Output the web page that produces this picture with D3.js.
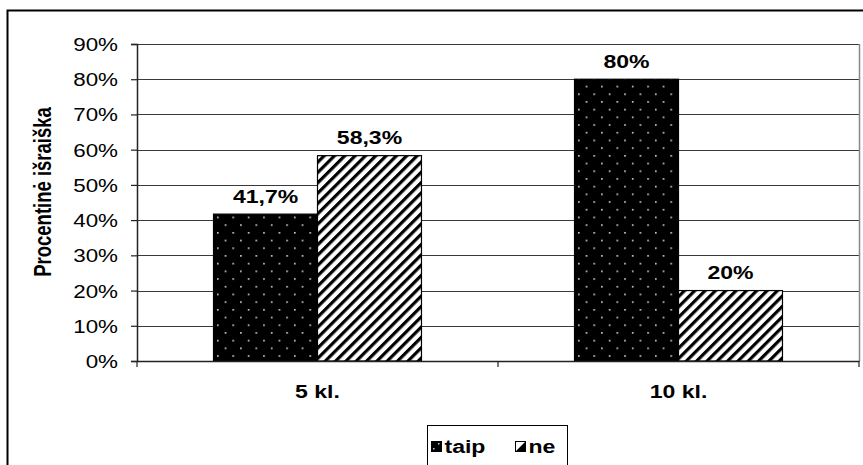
<!DOCTYPE html>
<html><head><meta charset="utf-8">
<script src="https://cdn.jsdelivr.net/npm/d3@7"></script>
<style>body{margin:0;background:#fff}svg{display:block}</style>
</head><body>
<script>
const categories = ["5 kl.", "10 kl."];
const seriesNames = ["taip", "ne"];
const taipValues = [0.417, 0.80];
const neValues = [0.583, 0.20];
const valueLabels = [["41,7%", "58,3%"], ["80%", "20%"]];
const yTicks = [0, 0.1, 0.2, 0.3, 0.4, 0.5, 0.6, 0.7, 0.8, 0.9];
const yTitle = "Procentinė išraiška";

(function () {
const W = 863, H = 465, SX = 1.28;
const svg = d3.select("body").append("svg").attr("width", W).attr("height", H);
const defs = svg.append("defs");

// dotted pattern
const pd = defs.append("pattern").attr("id", "dots").attr("patternUnits", "userSpaceOnUse")
  .attr("width", 15.4).attr("height", 15.4).attr("x", 2).attr("y", 0);
pd.append("rect").attr("width", 15.4).attr("height", 15.4).attr("fill", "#000");
pd.append("rect").attr("x", 1).attr("y", 1).attr("width", 1.6).attr("height", 1.6).attr("fill", "#d8d8d8");
pd.append("rect").attr("x", 8.7).attr("y", 8.7).attr("width", 1.6).attr("height", 1.6).attr("fill", "#d8d8d8");

// hatch pattern
const ph = defs.append("pattern").attr("id", "hatch").attr("patternUnits", "userSpaceOnUse")
  .attr("width", 7.3).attr("height", 7.3).attr("patternTransform", "rotate(45)");
ph.append("rect").attr("width", 7.3).attr("height", 7.3).attr("fill", "#fff");
ph.append("rect").attr("width", 3.2).attr("height", 7.3).attr("fill", "#000");

const fills = {taip: "url(#dots)", ne: "url(#hatch)"};

// outer frame
svg.append("rect").attr("x", 7.5).attr("y", 10.5).attr("width", 900).attr("height", 500)
  .attr("fill", "none").attr("stroke", "#000").attr("stroke-width", 2);

const pL = 137, pR = 859, pT = 44, pB = 361;
const y = d3.scaleLinear().domain([0, 0.9]).range([pB, pT]);
const x0 = d3.scaleBand().domain(categories).range([pL, pR]).padding(0);
const x1 = d3.scaleBand().domain(seriesNames).range([0, x0.bandwidth()]).paddingInner(0).paddingOuter(0.736);

// gridlines
svg.append("g").selectAll("line").data(yTicks.filter(d => d > 0)).join("line")
  .attr("x1", pL).attr("x2", pR)
  .attr("y1", d => Math.round(y(d)) + 0.5).attr("y2", d => Math.round(y(d)) + 0.5)
  .attr("stroke", "#3a3a3a").attr("stroke-width", 1);
// plot right border
svg.append("line").attr("x1", pR + 0.5).attr("x2", pR + 0.5).attr("y1", pT).attr("y2", pB)
  .attr("stroke", "#888").attr("stroke-width", 1.5);

// bars
const data = categories.map((c, i) => ({cat: c, vals: [
  {s: "taip", v: taipValues[i], label: valueLabels[i][0]},
  {s: "ne", v: neValues[i], label: valueLabels[i][1]}]}));

const groups = svg.append("g").selectAll("g").data(data).join("g")
  .attr("transform", d => `translate(${x0(d.cat)},0)`);
groups.selectAll("rect").data(d => d.vals).join("rect")
  .attr("x", d => x1(d.s)).attr("width", x1.bandwidth())
  .attr("y", d => y(d.v)).attr("height", d => y(0) - y(d.v))
  .attr("fill", d => fills[d.s]).attr("stroke", "#000").attr("stroke-width", 1.2);
groups.selectAll("text").data(d => d.vals).join("text")
  .attr("transform", d => `translate(${x1(d.s) + x1.bandwidth() / 2},${y(d.v) - 11.5}) scale(${SX},1)`)
  .attr("text-anchor", "middle").attr("font-family", "Liberation Sans, Arial, sans-serif")
  .attr("font-weight", "bold").attr("font-size", 18).attr("fill", "#000").text(d => d.label);

// y axis
const yAxis = svg.append("g").attr("transform", `translate(${pL},0)`)
  .call(d3.axisLeft(y).tickValues(yTicks).tickFormat(d => Math.round(d * 100) + "%").tickSizeOuter(0).tickSize(6).tickPadding(0));
yAxis.select(".domain").attr("stroke", "#222").attr("stroke-width", 1.5);
yAxis.selectAll(".tick line").attr("stroke", "#222").attr("stroke-width", 1.2);
yAxis.selectAll(".tick text")
  .attr("x", null).attr("dy", null)
  .attr("transform", `translate(-19,6.5) scale(${SX},1)`)
  .attr("font-family", "Liberation Sans, Arial, sans-serif").attr("font-size", 17.5).attr("fill", "#000");

// x axis
const xAxis = svg.append("g").attr("transform", `translate(0,${pB})`)
  .call(d3.axisBottom(x0).tickSize(0).tickSizeOuter(0).tickPadding(0));
xAxis.select(".domain").attr("stroke", "#222").attr("stroke-width", 1.5);
xAxis.selectAll(".tick text")
  .attr("y", null).attr("dy", null)
  .attr("transform", `translate(0,37) scale(${SX},1)`)
  .attr("font-family", "Liberation Sans, Arial, sans-serif").attr("font-weight", "bold")
  .attr("font-size", 18).attr("fill", "#000");
// category separator ticks
const sepTicks = [pL, ...categories.slice(1).map(c => x0(c)), pR];
svg.append("g").selectAll("line").data(sepTicks).join("line")
  .attr("x1", d => d).attr("x2", d => d).attr("y1", pB).attr("y2", pB + 6)
  .attr("stroke", "#222").attr("stroke-width", 1.2);

// y title
svg.append("text")
  .attr("transform", `translate(51,192) scale(${SX},1) rotate(-90)`)
  .attr("text-anchor", "middle").attr("font-family", "Liberation Sans, Arial, sans-serif")
  .attr("font-weight", "bold").attr("font-size", 18.5).attr("fill", "#000").text(yTitle);

// legend
const lg = svg.append("g");
lg.append("rect").attr("x", 427.5).attr("y", 425.5).attr("width", 140).attr("height", 60)
  .attr("fill", "#fff").attr("stroke", "#000").attr("stroke-width", 1);
const legendX = {taip: 431, ne: 515};
seriesNames.forEach(s => {
  const g = lg.append("g").attr("transform", `translate(${legendX[s]},441)`);
  if (s === "taip") {
    g.append("rect").attr("width", 11).attr("height", 11).attr("fill", "#000");
    g.append("rect").attr("x", 2).attr("y", 7).attr("width", 1.5).attr("height", 1.5).attr("fill", "#ccc");
    g.append("rect").attr("x", 7).attr("y", 2).attr("width", 1.5).attr("height", 1.5).attr("fill", "#ccc");
  } else {
    g.append("rect").attr("x", 0.5).attr("y", 0.5).attr("width", 10).attr("height", 10).attr("fill", "#fff").attr("stroke", "#000");
    g.append("path").attr("d", "M10.5,0.5L10.5,10.5L0.5,10.5Z").attr("fill", "#000");
  }
  g.append("text").attr("transform", `translate(13.5,11.5) scale(${SX},1)`)
    .attr("font-family", "Liberation Sans, Arial, sans-serif").attr("font-weight", "bold")
    .attr("font-size", 18).attr("fill", "#000").text(s);
});
})();
</script>
</body></html>
